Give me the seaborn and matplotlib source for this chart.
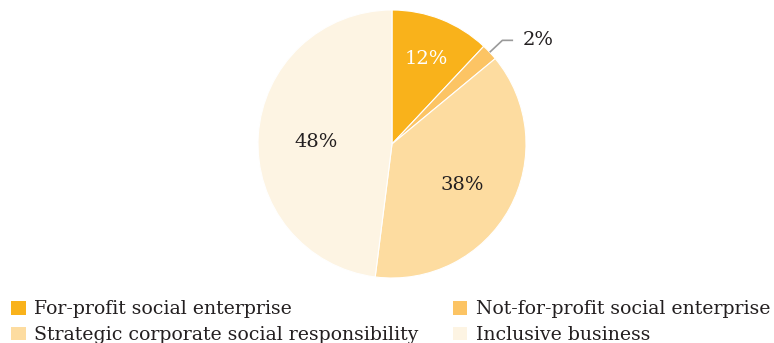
import numpy as np
import matplotlib
matplotlib.use("Agg")
import matplotlib.pyplot as plt
from matplotlib.patches import Patch
import seaborn as sns

categories = [
    "For-profit social enterprise",
    "Not-for-profit social enterprise",
    "Strategic corporate social responsibility",
    "Inclusive business",
]
shares = [12, 2, 38, 48]
colors = ["#F9B21B", "#FCC464", "#FDDCA0", "#FDF4E3"]
label_colors = ["white", "#231F20", "#231F20", "#231F20"]

sns.set_theme(style="white")
plt.rcParams["font.family"] = ["DejaVu Serif"]

fig = plt.figure(figsize=(7.74, 3.43), dpi=100)
ax = fig.add_axes([258 / 774, 1 - 278 / 343, 268 / 774, 268 / 343])

wedges, _ = ax.pie(
    shares,
    colors=sns.color_palette(colors),
    startangle=90,
    counterclock=False,
    radius=1.0,
    wedgeprops=dict(edgecolor="white", linewidth=0.8),
)
ax.set_xlim(-1, 1)
ax.set_ylim(-1, 1)
ax.set_aspect("equal")
ax.axis("off")

label_radius = [0.70, None, 0.60, 0.57]
for w, val, r, c in zip(wedges, shares, label_radius, label_colors):
    mid = np.deg2rad((w.theta1 + w.theta2) / 2)
    if r is not None:
        ax.text(r * np.cos(mid), r * np.sin(mid) - 0.02, f"{val}%",
                ha="center", va="center", fontsize=14, color=c)
    else:
        # small slice: leader line out to the right
        ex, ey = np.cos(mid), np.sin(mid)
        kx, ky = 1.13 * ex, 1.13 * ey
        ax.plot([ex, kx, kx + 0.08], [ey, ky, ky], color="#9A9A9A",
                lw=1.2, clip_on=False, solid_capstyle="butt")
        ax.text(kx + 0.15, ky, f"{val}%", ha="left", va="center",
                fontsize=14, color=c)

order = [0, 2, 1, 3]
handles = [Patch(facecolor=colors[i], edgecolor="none") for i in order]
labels = [categories[i] for i in order]
fig.legend(
    handles, labels, ncol=2, loc="lower left",
    bbox_to_anchor=(0.005, -0.025), frameon=False, fontsize=13.6,
    handlelength=0.75, handleheight=0.75, handletextpad=0.45,
    columnspacing=1.85, labelspacing=0.4, borderaxespad=0.0,
    labelcolor="#231F20",
)

fig.savefig("out.png", dpi=100, facecolor="white")
